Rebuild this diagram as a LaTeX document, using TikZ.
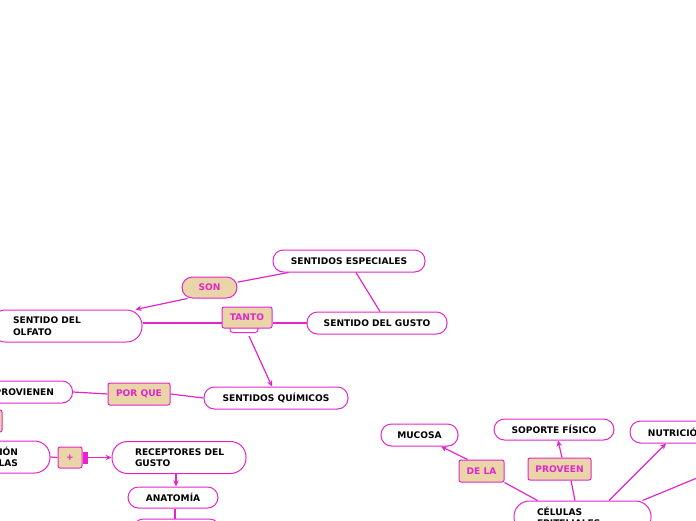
\documentclass[tikz,border=0pt]{standalone}
\usepackage{fontspec}
\usepackage{tikz}
\usetikzlibrary{arrows.meta}
\newfontfamily\mapfont{DejaVu Sans}
\definecolor{mapmag}{RGB}{226,38,204}
\definecolor{maptan}{RGB}{233,213,168}

\begin{document}
\begin{tikzpicture}[x=1pt, y=-1pt,
    >={Stealth[length=6pt,width=5.5pt]},
    concept/.style={draw=mapmag, fill=white, line width=1pt, rounded corners=10.5pt,
        inner sep=0pt, minimum height=22pt, text=black,
        font=\mapfont\bfseries\fontsize{9.1}{11.5}\selectfont},
    concepttwo/.style={concept, rounded corners=15.5pt, minimum height=32pt,
        align=left, inner xsep=23pt},
    linkbox/.style={draw=mapmag, fill=maptan, line width=1pt, rounded corners=2pt,
        inner sep=0pt, minimum height=22pt, text=mapmag,
        font=\mapfont\bfseries\fontsize{9.1}{11.5}\selectfont},
    linkround/.style={linkbox, rounded corners=10.5pt},
    link/.style={draw=mapmag, line width=1.2pt}]

% 画布大小
\useasboundingbox (0,0) rectangle (696,520);
\clip (0,0) rectangle (696,520);

% 左上：特殊感觉
\node[concept, minimum width=152pt] (espec) at (349,261) {SENTIDOS ESPECIALES};
\node[linkround, minimum width=55pt, minimum height=21pt] (son) at (209.5,287.5) {SON};
\node[concepttwo, text width=106pt] (olfato) at (66,326) {SENTIDO DEL\\OLFATO};
\node[draw=mapmag, fill=white, line width=1pt, rounded corners=3pt, inner sep=0pt,
      minimum width=28pt, minimum height=7pt] (tantotab) at (244,329) {};
\node[linkbox, minimum width=50pt, minimum height=21pt] (tanto) at (247,317.5) {TANTO};
\node[concept, minimum width=140pt] (gusto) at (377,323) {SENTIDO DEL GUSTO};
\node[concept, minimum width=144pt] (quimicos) at (276,398) {SENTIDOS QUÍMICOS};
\node[linkbox, minimum width=62pt] (porque) at (139,394) {POR QUE};
\node[concept, text width=96pt, align=right, inner xsep=18.5pt] (provienen) at (6,392) {PROVIENEN};
\node[linkbox, minimum width=44pt] (oculto) at (-20,421) {};

% 左下：味觉感受器
\node[concepttwo, text width=66pt, align=right, inner xsep=32pt] (ionlas) at (-15,457) {IÓN\\LAS};
\node[linkbox, minimum width=24pt, minimum height=21pt] (plus) at (70,457.5) {+};
\node[fill=mapmag, inner sep=0pt, minimum width=5pt, minimum height=12pt, anchor=west] (plusbar) at (plus.east) {};
\node[concepttwo, text width=88pt] (receptores) at (179,457.5) {\mbox{RECEPTORES DEL}\\GUSTO};
\node[concept, minimum width=90pt, minimum height=21pt] (anatomia) at (173,497.5) {ANATOMÍA};
\node[concept, minimum width=87pt] (abajo) at (176.5,530) {};

% 右下：上皮细胞
\node[concept, minimum width=77pt] (mucosa) at (419.5,435) {MUCOSA};
\node[concept, minimum width=120pt, minimum height=21pt] (soporte) at (554,429.5) {SOPORTE FÍSICO};
\node[concept, minimum width=93pt] (nutricion) at (676.5,432) {NUTRICIÓN};
\node[linkbox, minimum width=45pt] (dela) at (481.5,471) {DE LA};
\node[linkbox, minimum width=63pt] (proveen) at (559.5,469) {PROVEEN};
\node[concepttwo, text width=91pt] (celulas) at (582.5,517) {CÉLULAS\\EPITELIALES};
\coordinate (fuera) at (760,452);

% 连线
\draw[link] (espec) -- (son);
\draw[link, ->] ([xshift=6pt]son.south west) -- ([xshift=-7pt]olfato.north east);
\draw[link] ([xshift=7pt]espec.south) -- ([xshift=3pt]gusto.north);
\draw[link] (olfato.east |- gusto.west) -- (tanto.west |- gusto.west);
\draw[link] (tanto.east |- gusto.west) -- (gusto.west);
\draw[link, ->] ([xshift=5pt,yshift=-3pt]tantotab.south) -- ([xshift=-4pt]quimicos.north);
\draw[link] (quimicos.west) -- (porque.east);
\draw[link] (porque.west) -- (provienen.east);

\draw[link] (ionlas.east) -- (plus.west);
\draw[link, ->] (plusbar.east) -- (receptores.west);
\draw[link, ->] ([xshift=-3pt]receptores.south) -- ([xshift=3pt]anatomia.north);
\draw[link] ([xshift=2pt]anatomia.south) -- ([xshift=2pt]anatomia.south |- abajo.north);

\draw[link] ([xshift=24pt]celulas.north west) -- (dela.south east);
\draw[link, ->] ([xshift=9pt]dela.north west) -- ([xshift=21.5pt]mucosa.south);
\draw[link] ([xshift=-7.5pt]celulas.north) -- ([xshift=11.5pt]proveen.south);
\draw[link, ->] ([xshift=2.5pt]proveen.north) -- ([xshift=4pt]soporte.south);
\draw[link, ->] ([xshift=26.5pt]celulas.north) -- ([xshift=-10.5pt]nutricion.south);
\draw[link] ([xshift=-9pt]celulas.north east) -- (fuera);
\end{tikzpicture}
\end{document}
